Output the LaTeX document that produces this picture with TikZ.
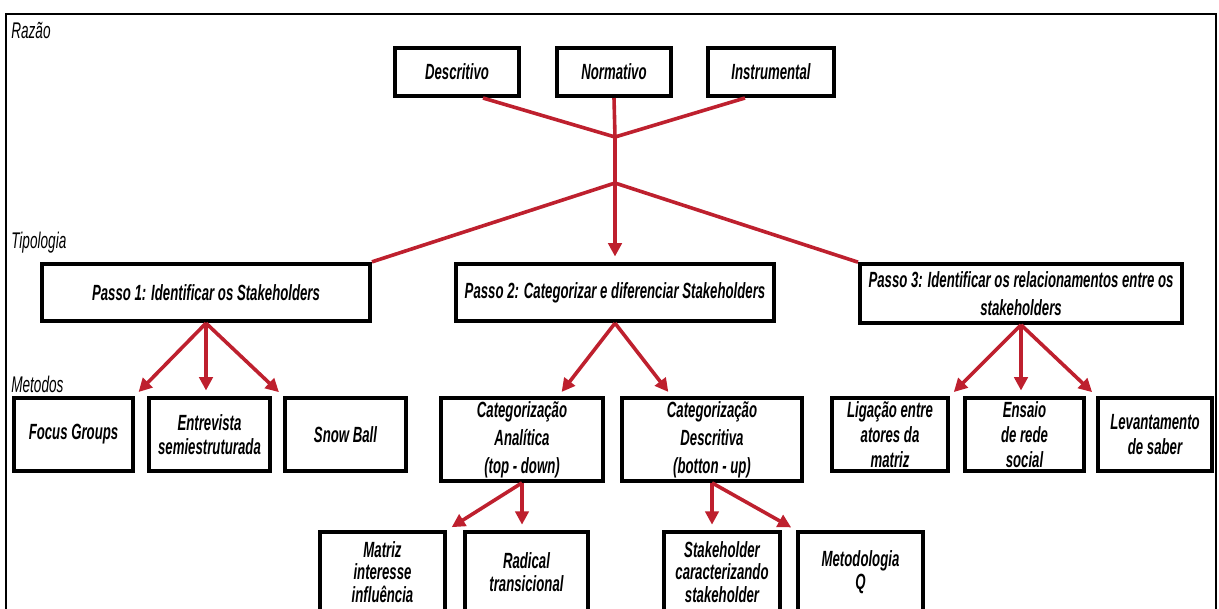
\documentclass[tikz,border=0pt]{standalone}
\usepackage{fontspec}
\setmainfont{Liberation Sans}[FakeStretch=0.6]
\usetikzlibrary{positioning,arrows.meta}
\definecolor{linkred}{RGB}{190,32,46}
\tikzset{
  box/.style={draw, line width=3pt, align=center, font=\fontsize{16.5}{18.5}\selectfont\bfseries\itshape, inner sep=2pt},
  wide/.style={box, font=\fontsize{16.5}{21}\selectfont\bfseries\itshape},
  low/.style={box, font=\fontsize{16.5}{17}\selectfont\bfseries\itshape},
  tag/.style={anchor=west, font=\fontsize{17}{18}\selectfont\itshape, inner sep=0pt},
  ln/.style={draw=linkred, line width=2.7pt},
  arr/.style={ln, -{Triangle[length=10pt,width=10pt]}, shorten >=4pt}
}

\begin{document}
\begin{tikzpicture}[x=0.75pt, y=-0.75pt]
\useasboundingbox (0,0) rectangle (1219,608);
\clip (0,0) rectangle (1219,608);
\draw[line width=2pt] (6,14) rectangle (1216,660);

% labels on the left
\node[tag] (razao) at (11,30) {Razão};
\node[tag] (tipo) at (11,243) {Tipologia};
\node[tag] (metodos) at (11,384) {Metodos};

% razao
\node[box, minimum width=93pt, minimum height=36pt] (desc) at (457,72) {Descritivo};
\node[box, minimum width=85pt, minimum height=36pt] (norm) at (614,72) {Normativo};
\node[box, minimum width=94.5pt, minimum height=36pt] (instr) at (771,72) {Instrumental};
\coordinate (j1) at (615,137);
\coordinate (j2) at (615,183);

% tipologia
\node[box, minimum width=246pt, minimum height=43pt] (p1) at (206,292.5) {Passo 1: Identificar os Stakeholders};
\node[box, minimum width=238.5pt, minimum height=43pt] (p2) at (615,292.5) {Passo 2: Categorizar e diferenciar Stakeholders};
\node[wide, minimum width=241.5pt, minimum height=44pt] (p3) at (1021,293.5) {Passo 3: Identificar os relacionamentos entre os\\stakeholders};

% metodos
\node[box, minimum width=89pt, minimum height=55pt] (focus) at (73.5,434.5) {Focus Groups};
\node[box, minimum width=91pt, minimum height=55pt] (entre) at (209.5,434.5) {Entrevista\\semiestruturada};
\node[box, minimum width=91pt, minimum height=55pt] (snow) at (345.5,434.5) {Snow Ball};
\node[wide, minimum width=121.5pt, minimum height=62pt] (catA) at (522,439.5) {Categorização\\Analítica\\(top - down)};
\node[wide, minimum width=135pt, minimum height=62pt] (catD) at (712,439.5) {Categorização\\Descritiva\\(botton - up)};
\node[box, minimum width=87pt, minimum height=55pt] (lig) at (890,434.5) {Ligação entre\\atores da\\matriz};
\node[box, minimum width=89pt, minimum height=55pt] (ens) at (1024.5,434.5) {Ensaio\\de rede\\social};
\node[box, minimum width=85.5pt, minimum height=55pt] (lev) at (1155,434.5) {Levantamento\\de saber};
\node[low, minimum width=94pt, minimum height=60pt] (matriz) at (382.5,572) {Matriz\\interesse\\influência};
\node[low, minimum width=92pt, minimum height=60pt] (radical) at (526.5,572) {Radical\\transicional};
\node[low, minimum width=87pt, minimum height=60pt] (stake) at (722,572) {Stakeholder\\caracterizando\\stakeholder};
\node[low, minimum width=94pt, minimum height=60pt] (metod) at (860.5,572) {Metodologia\\Q};

% connectors
\draw[ln] (desc.-45) -- (j1); \draw[ln] (instr.-135) -- (j1);
\draw[ln] (norm.south) -- (j1) -- (j2);
\draw[ln] (j2) -- (p1.north east); \draw[ln] (j2) -- (p3.north west);
\draw[arr] (j2) -- (p2.north);
\draw[arr] (p1.south) -- (focus.north east); \draw[arr] (p1.south) -- (p1.south |- entre.north); \draw[arr] (p1.south) -- (snow.north west);
\draw[arr] (p2.south) -- (catA.50); \draw[arr] (p2.south) -- (catD.133);
\draw[arr] (p3.south) -- (lig.north east); \draw[arr] (p3.south) -- (p3.south |- ens.north); \draw[arr] (p3.south) -- (lev.north west);
\draw[arr] (catA.south) -- (matriz.north east); \draw[arr] (catA.south) -- (catA.south |- radical.north);
\draw[arr] (catD.south) -- (catD.south |- stake.north); \draw[arr] (catD.south) -- (metod.north west);
\end{tikzpicture}
\end{document}
